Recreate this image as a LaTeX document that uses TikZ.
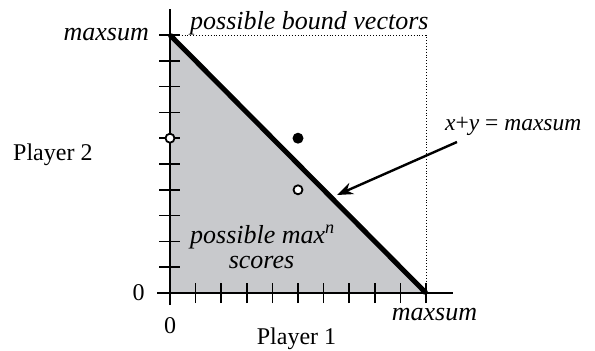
\documentclass[tikz,border=0pt]{standalone}
\usepackage{fontspec}
\setmainfont{Liberation Serif}
\usetikzlibrary{arrows.meta}
\definecolor{regiongray}{RGB}{200,201,204}
\tikzset{
  lbl/.style={inner sep=0pt, font=\fontsize{24}{28}\selectfont},
  ilbl/.style={inner sep=0pt, font=\fontsize{26}{30}\selectfont\itshape},
  axisline/.style={line width=2.6pt},
  tickline/.style={line width=1.6pt},
  bound/.style={line width=5pt},
  dotline/.style={line width=0.9pt, dotted},
  opendot/.style={circle, draw, fill=white, line width=1.8pt, inner sep=0pt, minimum size=9pt},
  fulldot/.style={circle, fill=black, inner sep=0pt, minimum size=11pt},
  pointer/.style={line width=2.4pt, -{Stealth[length=16pt, width=12pt]}}
}
\begin{document}
\begin{tikzpicture}[x=1pt,y=-1pt]
\useasboundingbox (0,0) rectangle (595,351);
\begin{scope}[shift={(170,293)}, x=25.6pt, y=25.8pt]
  \coordinate (O) at (0,0);
  \coordinate (T) at (0,10);
  \coordinate (R) at (10,0);
  \coordinate (C) at (10,10);
  \coordinate (ytop) at (0,11);
  \coordinate (ybot) at (0,-0.47);
  \coordinate (xleft) at (-0.5,0);
  \coordinate (xright) at (11.05,0);
  \fill[regiongray] (O) -- (T) -- (R) -- cycle;
  \draw[dotline] (T) -- (C) -- (R);
  \draw[axisline] (ybot) -- (ytop);
  \draw[axisline] (xleft) -- (xright);
  \foreach \k in {1,...,10} {
    \draw[tickline] (-0.42,\k) -- (0.4,\k);
    \draw[tickline] (\k,-0.39) -- (\k,0.39);
  }
  \draw[bound] (T) -- (R);
  \node[opendot] (p06) at (0,6) {};
  \node[fulldot] (p56) at (5,6) {};
  \node[opendot] (p54) at (5,4) {};
\end{scope}
\coordinate (arrowstart) at (457,142);
\coordinate (arrowtip) at (337,195);
\draw[pointer] (arrowstart) -- (arrowtip);
\node[ilbl, anchor=base east] (ymax) at (149,40) {maxsum};
\node[ilbl, anchor=base west] (boundlbl) at (190,29) {possible bound vectors};
\node[lbl, anchor=base west, font=\fontsize{23.5}{28}\selectfont] (linelbl) at (445,130) {\textit{x}+\textit{y} = \textit{maxsum}};
\node[lbl, anchor=base west] (p2) at (13,160) {Player 2};
\node[ilbl, anchor=base west] (maxlbl) at (190,243) {possible max\textsuperscript{n}};
\node[ilbl, anchor=base] (scoreslbl) at (261.5,268) {scores};
\node[lbl, anchor=base] (yzero) at (138.5,300) {0};
\node[lbl, anchor=base] (xzero) at (170,333) {0};
\node[ilbl, anchor=base] (xmax) at (434.5,320) {maxsum};
\node[lbl, anchor=base] (p1) at (296.5,344.5) {Player 1};
\end{tikzpicture}
\end{document}
